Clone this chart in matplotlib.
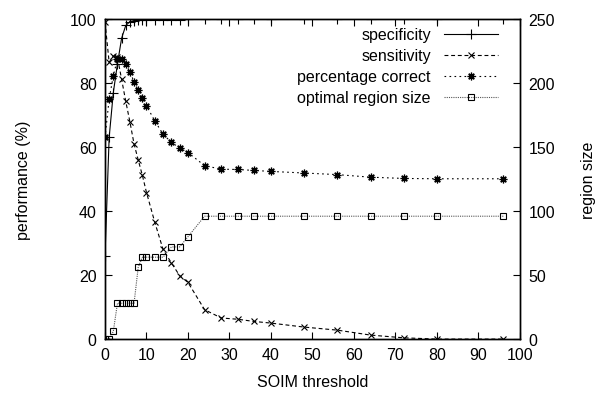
import matplotlib
matplotlib.use("Agg")
import matplotlib.pyplot as plt

plt.rcParams['font.family'] = ['Liberation Sans', 'DejaVu Sans']
plt.rcParams['font.size'] = 11.5

# SOIM threshold values
threshold = [0, 1, 2, 3, 4, 5, 6, 7, 8, 9, 10, 12, 14, 16, 18, 20, 24, 28,
             32, 36, 40, 48, 56, 64, 72, 80, 96]

# performance measures (%)
specificity = [26, 63, 77, 86, 94, 98, 99.2, 99.5, 99.6, 99.7, 99.7, 99.8, 99.8,
               99.8, 99.8, 99.9, 99.9, 99.9, 100, 100, 100, 100, 100, 100,
               100, 100, 100]
sensitivity = [99, 86.5, 88.5, 88, 81.2, 74.3, 67.9, 61, 56, 51.2, 45.8, 36.5,
               28, 23.8, 19.8, 17.7, 9.2, 6.6, 6.2, 5.5, 5.0, 3.75, 2.8, 1.25,
               0.4, 0, 0]
pct_correct = [63, 75, 82.3, 87.5, 87.5, 86, 83.5, 80.4, 77.8, 75.3, 72.9, 68.2,
               64, 61.5, 59.7, 58.3, 54.2, 53.1, 53, 52.7, 52.4, 51.9, 51.4,
               50.6, 50.2, 50.1, 50.1]

# optimal region size (pixels)
region_size = [0, 0, 6, 28, 28, 28, 28, 28, 56, 64, 64, 64, 64, 72, 72, 80, 96,
               96, 96, 96, 96, 96, 96, 96, 96, 96, 96]

fig = plt.figure(figsize=(5.99, 4.02), dpi=100)
ax = fig.add_axes([0.1753, 0.154, 0.6927, 0.796])
ax2 = ax.twinx()

lw = 0.8
h1, = ax.plot(threshold, specificity, color='black', lw=lw, linestyle='-',
              marker='+', markersize=6.5, markeredgewidth=0.8, label='specificity')
h2, = ax.plot(threshold, sensitivity, color='black', lw=lw, linestyle=(0, (3.5, 2.5)),
              marker='x', markersize=4.5, markeredgewidth=0.8, label='sensitivity')
h3, = ax.plot(threshold, pct_correct, color='black', lw=lw, linestyle=(0, (1.5, 3)),
              marker=(8, 2, 0), markersize=5.5, markeredgewidth=0.9,
              label='percentage correct')
h4, = ax2.plot(threshold, region_size, color='#555555', lw=lw, linestyle=(0, (1, 1)),
               marker='s', markersize=5, markerfacecolor='none',
               markeredgecolor='black', markeredgewidth=0.8,
               label='optimal region size')

ax.set_xlim(0, 100)
ax.set_ylim(0, 100)
ax2.set_ylim(0, 250)
ax.set_xticks(range(0, 101, 10))
ax.set_yticks(range(0, 101, 20))
ax2.set_yticks(range(0, 251, 50))

ax.tick_params(axis='x', direction='in', top=True, length=5, width=0.8, pad=6)
ax.tick_params(axis='y', direction='in', right=False, length=5, width=0.8, pad=6)
ax2.tick_params(axis='y', direction='in', length=5, width=0.8, pad=6)
for a in (ax, ax2):
    for s in a.spines.values():
        s.set_linewidth(1.0)

ax.set_xlabel('SOIM threshold', labelpad=8)
ax.set_ylabel('performance (%)', labelpad=28)
ax2.set_ylabel('region size', labelpad=19)

leg = ax2.legend(handles=[h1, h2, h3, h4], loc='upper right',
                 bbox_to_anchor=(0.955, 0.985), markerfirst=False, frameon=False,
                 handlelength=3.4, handletextpad=0.8, labelspacing=0.38,
                 borderpad=0.2, borderaxespad=0)

fig.savefig('out.png', dpi=100)
